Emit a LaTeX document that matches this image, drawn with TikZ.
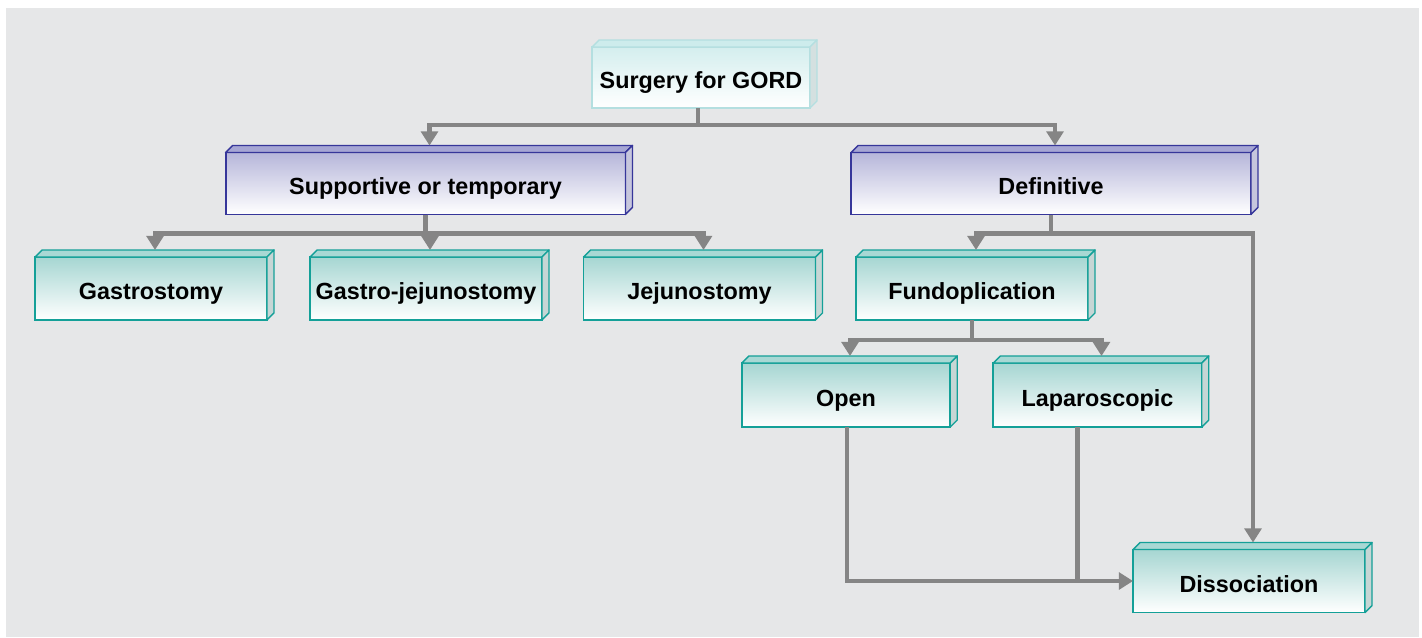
\documentclass[tikz,border=0pt]{standalone}
\usepackage{fontspec}
\setmainfont{Liberation Sans}
\usetikzlibrary{arrows.meta}
\definecolor{bg}{HTML}{E6E7E8}
\definecolor{link}{HTML}{858585}
\definecolor{tealline}{HTML}{14A098}
\definecolor{tealtop}{HTML}{A6D6D2}
\definecolor{tealface}{HTML}{A8D8D4}
\definecolor{tealside}{HTML}{C6D6D5}
\definecolor{purpline}{HTML}{36369A}
\definecolor{purptop}{HTML}{B6B6DA}
\definecolor{purpface}{HTML}{A6A6D4}
\definecolor{purpside}{HTML}{C6C6DD}
\definecolor{gordline}{HTML}{B4DFE0}
\definecolor{gordtop}{HTML}{D4EEEE}
\definecolor{gordface}{HTML}{CDECEC}
\definecolor{gordside}{HTML}{D4E0E0}
\tikzset{
  box/.style={rectangle,draw,line width=1.1pt,outer sep=0pt,inner sep=0pt,
    minimum height=1.26cm,text height=13pt,text depth=0pt,
    font=\fontsize{13.3}{16}\selectfont\bfseries},
  tealbox/.style={box,draw=tealline,top color=tealtop,bottom color=white,minimum width=4.64cm},
  tealsmall/.style={tealbox,minimum width=4.17cm,minimum height=1.28cm},
  purpbox/.style={box,draw=purpline,top color=purptop,bottom color=white,minimum width=8cm,minimum height=1.24cm},
  gordbox/.style={box,draw=gordline,top color=gordtop,bottom color=white,minimum width=4.36cm,minimum height=1.22cm},
  link/.style={draw=link,line width=2.8pt},
  arr/.style={link,-{Triangle[width=9.5pt,length=8pt]}}
}

\begin{document}
\begin{tikzpicture}[x=0.02cm,y=-0.02cm]
      \useasboundingbox (0,0) rectangle (1422,637);
      \fill[white] (0,0) rectangle (1422,637);
      \fill[bg] (6,8) rectangle (1419,637);

      \node[gordbox] (gord) at (701,77.5) {Surgery for GORD};
      \node[purpbox] (sup) at (425.5,183.5) {Supportive or temporary};
      \node[purpbox] (def) at (1051,183.5) {Definitive};
      \node[tealbox] (gas) at (151,288.5) {Gastrostomy};
      \node[tealbox] (gj) at (426,288.5) {Gastro-jejunostomy};
      \node[tealbox] (jej) at (699.5,288.5) {Jejunostomy};
      \node[tealbox] (fun) at (972,288.5) {Fundoplication};
      \node[tealsmall] (open) at (846,395) {Open};
      \node[tealsmall] (lap) at (1097.5,395) {Laparoscopic};
      \node[tealbox] (dis) at (1249,581) {Dissociation};

      % top and side faces
      \foreach \n/\col in {gord/gord,sup/purp,def/purp,gas/teal,gj/teal,jej/teal,fun/teal,open/teal,lap/teal,dis/teal}{
        \filldraw[fill=\col face,draw=\col line,line width=0.8pt,line join=round]
          (\n.north west) -- ++(7,-7) -- ([shift={(7,-7)}]\n.north east) -- (\n.north east) -- cycle;
        \filldraw[fill=\col side,draw=\col line,line width=0.8pt,line join=round]
          (\n.north east) -- ([shift={(7,-7)}]\n.north east) -- ([shift={(7,-7)}]\n.south east) -- (\n.south east) -- cycle;
      }

      \draw[arr] (gord.south) ++(-3,0) -- ++(0,17) -| ([shift={(4,-7)}]sup.north);
      \draw[arr] (gord.south) ++(-3,0) -- ++(0,17) -| ([shift={(4,-7)}]def.north);

      \draw[arr] (sup.south) -- ++(0,19) -| ([shift={(4,-7)}]gas.north);
      \draw[arr] (sup.south) -- ++(0,19) -| ([shift={(4,-7)}]gj.north);
      \draw[arr] (sup.south) -- ++(0,19) -| ([shift={(4,-7)}]jej.north);

      \draw[arr] (def.south) -- ++(0,19) -| ([shift={(4,-7)}]fun.north);
      \draw[arr] (def.south) -- ++(0,19) -| ([shift={(4,-7)}]dis.north);

      \draw[arr] (fun.south) -- ++(0,20) -| ([shift={(4,-7)}]open.north);
      \draw[arr] (fun.south) -- ++(0,20) -| ([shift={(4,-7)}]lap.north);

      \draw[arr] ([shift={(1,0)}]open.south) |- (dis.west);
      \draw[link] ([shift={(-20,0)}]lap.south) -- ([shift={(-20,0)}]lap.south |- dis.west);
    \end{tikzpicture}
\end{document}
